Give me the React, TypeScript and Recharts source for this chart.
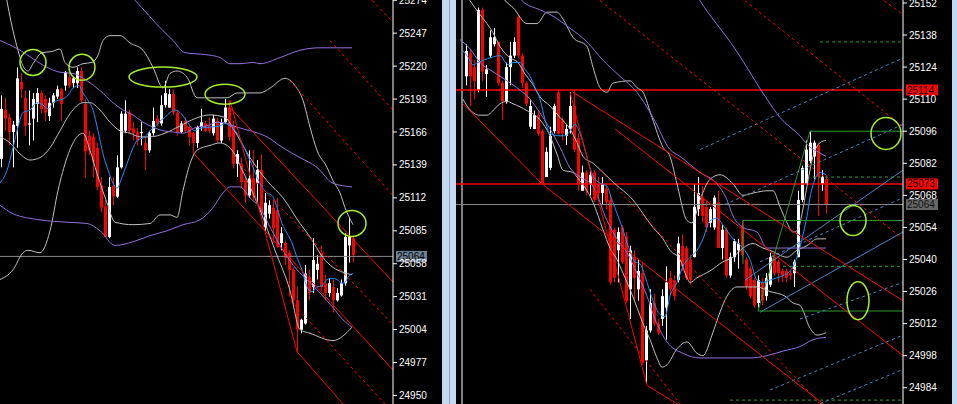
import React from 'react';
import { ComposedChart, Bar, Line, XAxis, YAxis, ReferenceLine, ReferenceDot } from 'recharts';

const FONT = "'Liberation Sans Narrow', 'Liberation Sans', Arial, sans-serif";

const RED = '#ff0000';
const WHITE = '#ffffff';
const BLUE = '#1e90ff';
const PURPLE = '#9370db';
const SILVER = '#c0c0c0';
const GREEN = '#2e9a2e';
const LIME = '#a6f02a';
const STEEL = '#4a86c8';

// ---------- left window ----------
const LEFT_OPEN = [
  25144, 25184, 25178, 25166, 25171, 25207, 25194, 25172, 25177, 25189,
  25198, 25193, 25179, 25190, 25195, 25201, 25204, 25211, 25206, 25206,
  25216, 25189, 25163, 25162, 25153, 25122, 25105, 25080, 25122, 25113,
  25137, 25167, 25182, 25169, 25166, 25165, 25157, 25151, 25165, 25177,
  25173, 25188, 25186, 25197, 25182, 25166, 25175, 25170, 25165, 25157,
  25170, 25173, 25171, 25165, 25175, 25159, 25174, 25186, 25171, 25140,
  25140, 25126, 25114, 25128, 25124, 25135, 25088, 25099, 25104, 25102,
  25075, 25075, 25067, 25053, 25028, 25004, 25009, 25047, 25039, 25053,
  25067, 25042, 25034, 25039, 25028, 25032, 25042, 25073, 25079,
];
const LEFT_HIGH = [
  25196, 25194, 25181, 25175, 25219, 25214, 25200, 25200, 25198, 25202,
  25200, 25196, 25194, 25198, 25204, 25202, 25216, 25214, 25211, 25219,
  25219, 25193, 25167, 25165, 25157, 25129, 25110, 25129, 25129, 25147,
  25183, 25192, 25184, 25174, 25169, 25174, 25162, 25167, 25186, 25180,
  25196, 25208, 25201, 25201, 25184, 25175, 25178, 25171, 25166, 25171,
  25185, 25175, 25178, 25180, 25178, 25177, 25193, 25192, 25175, 25151,
  25145, 25129, 25151, 25151, 25143, 25148, 25116, 25110, 25110, 25112,
  25088, 25077, 25069, 25055, 25039, 25013, 25057, 25053, 25079, 25065,
  25073, 25049, 25046, 25045, 25038, 25045, 25083, 25096, 25080,
];
const LEFT_LOW = [
  25137, 25167, 25155, 25137, 25153, 25194, 25163, 25155, 25159, 25174,
  25181, 25175, 25175, 25186, 25193, 25175, 25200, 25202, 25202, 25202,
  25190, 25128, 25147, 25129, 25118, 25100, 25080, 25079, 25106, 25112,
  25136, 25165, 25165, 25159, 25155, 25155, 25135, 25149, 25163, 25171,
  25171, 25186, 25186, 25180, 25163, 25165, 25166, 25155, 25149, 25153,
  25167, 25166, 25165, 25163, 25157, 25157, 25173, 25159, 25136, 25129,
  25120, 25108, 25112, 25110, 25108, 25098, 25085, 25095, 25075, 25071,
  25069, 25057, 25031, 25022, 24985, 25001, 25008, 25028, 25034, 25045,
  25036, 25028, 25031, 25018, 25027, 25031, 25040, 25059, 25059,
];
const LEFT_CLOSE = [
  25185, 25177, 25166, 25172, 25210, 25201, 25171, 25173, 25193, 25198,
  25185, 25182, 25190, 25196, 25201, 25189, 25215, 25204, 25210, 25216,
  25192, 25150, 25151, 25141, 25121, 25104, 25080, 25121, 25113, 25137,
  25181, 25181, 25167, 25165, 25159, 25166, 25151, 25165, 25175, 25173,
  25188, 25198, 25197, 25182, 25166, 25173, 25167, 25162, 25157, 25170,
  25174, 25167, 25167, 25177, 25159, 25174, 25186, 25162, 25140, 25148,
  25125, 25114, 25128, 25114, 25135, 25099, 25108, 25106, 25087, 25072,
  25083, 25063, 25053, 25028, 25004, 25012, 25050, 25034, 25061, 25058,
  25039, 25034, 25042, 25028, 25034, 25042, 25080, 25080, 25065,
];
const LEFT_TICKS = [24950, 24977, 25004, 25031, 25058, 25085, 25112, 25139, 25166, 25193, 25220, 25247, 25274];
const LEFT_BID = 25064;

// indicator lines, [bar index, price]
const LEFT_MA = [
  [-0.25, 25124], [1.5, 25134.5], [3, 25153], [4.25, 25170], [5.5, 25182], [7.25, 25184], [9, 25190],
  [10.5, 25188], [11.75, 25185], [13, 25190], [14.25, 25192], [15.5, 25193], [16.75, 25196], [18, 25202],
  [19.5, 25204], [20.5, 25198], [21.75, 25192], [23, 25184], [24.25, 25167], [25.5, 25148], [26.75, 25135],
  [28, 25124], [29, 25120], [30.25, 25129], [31.5, 25140], [32.75, 25151], [34, 25159], [36, 25162],
  [37.25, 25167], [38.5, 25170], [39.75, 25175], [41, 25178], [42.25, 25182], [43.5, 25184], [44.75, 25182],
  [46, 25177], [47.25, 25171], [48.5, 25167], [49.75, 25169], [52.25, 25170], [54.75, 25171], [56, 25173],
  [57.25, 25171], [59, 25165], [60.25, 25157], [61.5, 25148], [62.75, 25139], [64, 25129], [65.25, 25121],
  [66.5, 25116], [67.75, 25114], [69, 25104], [70.25, 25091], [71.5, 25083], [72.75, 25075], [74, 25063],
  [75.25, 25053], [76.5, 25039], [77.75, 25035], [79, 25039], [80.25, 25040], [81.5, 25045], [82.75, 25046],
  [84, 25045], [85.25, 25042], [86, 25043], [86.75, 25047], [88, 25050],
];
const LEFT_PURPLE_UP = [
  [31.75, 25280], [33.5, 25274], [40.5, 25249], [43, 25241], [46, 25231], [49, 25230], [52.25, 25229],
  [54.75, 25227], [57.25, 25222], [59.75, 25222], [63, 25223], [64.75, 25222], [69.75, 25227], [74.75, 25233],
  [79.75, 25235], [84.75, 25235], [87.75, 25235],
];
const LEFT_PURPLE_MID = [
  [-0.25, 25241], [4.75, 25233], [8, 25226], [11.5, 25219], [14.75, 25215], [18, 25214], [21.5, 25208],
  [24.75, 25200], [28, 25190], [30.5, 25184], [33, 25180], [35.5, 25174], [38, 25170], [40.5, 25167],
  [43, 25166], [45.5, 25165], [49, 25170], [51.5, 25171], [54, 25174], [56.5, 25173], [59, 25170],
  [62.25, 25167], [66.5, 25162], [70.5, 25153], [74.75, 25145], [79, 25137], [83, 25124], [87.75, 25121],
];
const LEFT_PURPLE_LOW = [
  [-0.25, 25106], [3, 25099], [9.75, 25094], [16.5, 25092], [21.5, 25091], [24.75, 25085], [28.5, 25073],
  [33, 25076], [37.25, 25081], [41.5, 25085], [45.5, 25090], [49.75, 25094], [53, 25104], [55.5, 25116],
  [57.25, 25121], [59.75, 25121], [62.25, 25112], [64.75, 25104], [67.25, 25088], [70.5, 25069], [74, 25053],
  [76.5, 25045], [79.75, 25034], [83, 25022], [85.5, 25012], [87.75, 25006],
];
const LEFT_BB_UP = [
  [1, 25282], [3, 25249], [4.25, 25233], [5.25, 25222], [6.75, 25216], [8, 25222], [10.25, 25231],
  [12.75, 25232], [14.75, 25234], [16, 25223], [18, 25219], [20.5, 25222], [22.75, 25223], [24.25, 25229],
  [25.5, 25241], [27.25, 25245], [29.75, 25245], [32.25, 25239], [35.5, 25233], [38, 25219], [40.5, 25202],
  [42.25, 25214], [44, 25216], [46.5, 25211], [49, 25194], [52.25, 25194], [56.5, 25194], [59, 25198],
  [62.25, 25198], [64.75, 25198], [67.25, 25202], [71, 25210], [73.5, 25204], [75.5, 25192], [77.25, 25170],
  [79, 25151], [81.5, 25137], [83, 25126], [84.75, 25116], [86, 25104], [88, 25090],
];
const LEFT_BB_MID = [
  [-0.25, 25162], [2.25, 25157], [4.75, 25148], [7.25, 25143], [9.75, 25145], [12.25, 25153], [14.75, 25167],
  [17.25, 25181], [20.5, 25190], [22.25, 25190], [24.75, 25184], [27.25, 25174], [29.75, 25167],
  [32.25, 25165], [34.75, 25162], [37.25, 25162], [41, 25165], [44.75, 25171], [48.5, 25177], [52.25, 25180],
  [56, 25178], [58, 25169], [62.25, 25145], [66.5, 25126], [70.5, 25112], [74.75, 25091], [77.25, 25080],
  [80.5, 25063], [83, 25055], [85.5, 25051], [87.75, 25049],
];
const LEFT_BB_LOW = [
  [-0.25, 25045], [3, 25053], [5.5, 25067], [6.75, 25069], [9.75, 25067], [12.25, 25085], [14.25, 25118],
  [16.5, 25145], [19.25, 25163], [20.5, 25165], [22.25, 25151], [24, 25132], [26.5, 25108], [28.5, 25092],
  [33, 25090], [37.25, 25091], [39.75, 25098], [42.25, 25098], [44, 25096], [45.5, 25118], [47.25, 25140],
  [49, 25151], [52.25, 25155], [54.75, 25157], [57.25, 25153], [61, 25130], [64.75, 25102], [68.5, 25069],
  [72.25, 25036], [74.75, 25004], [77.25, 25001], [83, 24995], [87.75, 25006],
];
const LEFT_TREND_SOLID = [
  [[57.25, 25192], [74, 24986]],
  [[74, 24986], [85.5, 24943]],
  [[57.25, 25186], [98, 25043]],
  [[48, 25149], [98, 24971]],
];
const LEFT_TREND_DASHED = [
  [[92.75, 25274], [98, 25256]],
  [[82.25, 25241], [98, 25184]],
  [[72.25, 25208], [98, 25114]],
  [[59.75, 25139], [98, 25008]],
  [[72.25, 25028], [96, 24943]],
];
const LEFT_MARKS = [[8, 25223], [20.25, 25219], [40.5, 25211], [56, 25197], [87.75, 25091]];
const LEFT_MARK_RADII = [[13, 13], [13, 13], [34, 10], [20, 10], [14, 13]];

// ---------- right window ----------
const RIGHT_OPEN = [
  25120, 25130, 25124, 25114, 25149, 25121, 25129, 25134, 25135, 25117,
  25109, 25124, 25129, 25146, 25129, 25117, 25098, 25097, 25103, 25096,
  25076, 25080, 25096, 25113, 25101, 25094, 25097, 25107, 25093, 25070,
  25078, 25073, 25078, 25073, 25069, 25071, 25066, 25053, 25044, 25054,
  25050, 25027, 25041, 25027, 25034, 24996, 25009, 25021, 25012, 25014,
  25019, 25032, 25031, 25031, 25046, 25045, 25040, 25041, 25062, 25067,
  25063, 25056, 25054, 25065, 25045, 25053, 25033, 25041, 25044, 25055,
  25040, 25036, 25031, 25021, 25030, 25024, 25029, 25041, 25039, 25035,
  25035, 25034, 25034, 25041, 25066, 25073, 25083, 25085, 25090, 25073,
  25075,
];
const RIGHT_HIGH = [
  25134, 25132, 25127, 25150, 25150, 25125, 25140, 25141, 25135, 25118,
  25126, 25135, 25137, 25147, 25130, 25118, 25110, 25105, 25105, 25097,
  25089, 25098, 25108, 25114, 25102, 25099, 25113, 25114, 25095, 25081,
  25079, 25079, 25079, 25076, 25076, 25073, 25068, 25054, 25054, 25055,
  25052, 25046, 25044, 25040, 25039, 25011, 25027, 25025, 25014, 25027,
  25037, 25035, 25033, 25050, 25051, 25046, 25042, 25073, 25076, 25072,
  25066, 25063, 25068, 25070, 25055, 25054, 25043, 25049, 25049, 25057,
  25041, 25037, 25032, 25033, 25032, 25034, 25043, 25043, 25040, 25036,
  25036, 25035, 25040, 25070, 25081, 25092, 25096, 25092, 25091, 25079,
  25077,
];
const RIGHT_LOW = [
  25116, 25107, 25110, 25113, 25118, 25111, 25128, 25133, 25116, 25101,
  25108, 25116, 25128, 25128, 25115, 25107, 25097, 25097, 25094, 25073,
  25076, 25079, 25095, 25094, 25092, 25090, 25095, 25087, 25070, 25070,
  25068, 25068, 25065, 25066, 25064, 25062, 25029, 25030, 25030, 25038,
  25021, 25014, 25022, 25022, 24994, 24986, 25008, 25011, 25007, 25011,
  25005, 25025, 25022, 25030, 25035, 25031, 25029, 25041, 25059, 25056,
  25052, 25054, 25053, 25045, 25040, 25032, 25032, 25039, 25036, 25041,
  25027, 25023, 25019, 25019, 25020, 25022, 25028, 25033, 25030, 25030,
  25030, 25031, 25028, 25041, 25065, 25073, 25082, 25075, 25059, 25070,
  25060,
];
const RIGHT_CLOSE = [
  25131, 25120, 25118, 25149, 25122, 25123, 25137, 25137, 25117, 25109,
  25124, 25129, 25135, 25129, 25117, 25108, 25107, 25103, 25095, 25073,
  25087, 25094, 25107, 25095, 25095, 25097, 25107, 25088, 25073, 25078,
  25070, 25077, 25066, 25069, 25073, 25065, 25030, 25032, 25052, 25039,
  25022, 25044, 25032, 25035, 24995, 25009, 25021, 25012, 25008, 25024,
  25030, 25027, 25024, 25047, 25037, 25032, 25031, 25063, 25069, 25059,
  25054, 25062, 25067, 25045, 25053, 25033, 25041, 25048, 25047, 25042,
  25028, 25024, 25020, 25031, 25022, 25032, 25041, 25034, 25034, 25033,
  25032, 25033, 25039, 25066, 25080, 25088, 25091, 25091, 25076, 25076,
  25064,
];
const RIGHT_TICKS = [24984, 24998, 25012, 25026, 25040, 25054, 25068, 25082, 25096, 25110, 25124, 25138, 25152];
const RIGHT_BID = 25064;
const RIGHT_LEVELS = [25114, 25073];

const RIGHT_MA = [
  [-0.75, 25131], [0.25, 25129], [1.75, 25125], [3, 25126], [6, 25128], [8.5, 25129], [10.5, 25125],
  [11.75, 25126], [13.5, 25126], [14.75, 25123], [16, 25120], [17.25, 25115], [18.5, 25110], [19.75, 25101],
  [21, 25095], [23.5, 25094], [24.75, 25094], [26, 25096], [27.25, 25099], [28.5, 25095], [29.75, 25088],
  [31, 25080], [32.25, 25075], [34, 25073], [35.25, 25072], [36.5, 25066], [38, 25059], [39.25, 25053],
  [40.5, 25046], [42.25, 25039], [43.5, 25038], [45.25, 25030], [46.75, 25022], [48.5, 25016], [49.75, 25015],
  [51, 25024], [52.75, 25030], [54.25, 25037], [56, 25041], [57.75, 25044], [59.25, 25049], [61, 25057],
  [62.75, 25058], [64.25, 25055], [66.75, 25049], [69.25, 25045], [71, 25040], [72.75, 25031], [74.25, 25030],
  [76, 25031], [77.75, 25032], [79.25, 25033], [81, 25035], [82.75, 25041], [84, 25049], [85.25, 25059],
  [86, 25067], [87.25, 25075], [88.5, 25078], [90, 25077],
];
const RIGHT_PURPLE_UP = [
  [56, 25160], [58.5, 25153], [67.25, 25132], [75.25, 25110], [78.5, 25102], [83.5, 25094], [86, 25089],
  [88, 25087], [90, 25085],
];
const RIGHT_PURPLE_MID = [
  [12.25, 25157], [14, 25153], [18.5, 25149], [21, 25147], [26, 25141], [30.25, 25135], [34.25, 25127],
  [38.5, 25120], [42.75, 25113], [46.75, 25102], [51, 25088], [53.5, 25085], [58.5, 25078], [62.75, 25073],
  [65.25, 25066], [66.75, 25059], [69.25, 25054], [72.75, 25052], [75.25, 25045], [83.5, 25045], [90, 25045],
];
const RIGHT_PURPLE_LOW = [
  [-1.5, 25136], [1, 25132], [3.5, 25126], [6.75, 25122], [10.25, 25118], [13.5, 25114], [16, 25110],
  [18.5, 25104], [21, 25097], [23.5, 25089], [26, 25080], [28.5, 25076], [31.75, 25072], [35.25, 25057],
  [37.75, 25049], [40.25, 25043], [42.75, 25034], [45.25, 25024], [47.25, 25014], [50.25, 25004],
  [54.25, 24999], [58.5, 24997], [65.25, 24997], [71, 24997], [75.25, 24998], [79.25, 25000], [83.5, 25002],
  [86.75, 25005], [90, 25006],
];
const RIGHT_BB_UP = [
  [7.25, 25158], [9.75, 25153], [11.75, 25150], [15.25, 25143], [17.75, 25143], [20.25, 25148],
  [22.75, 25148], [24.25, 25145], [26.75, 25137], [30.25, 25133], [31.75, 25124], [33.5, 25115],
  [35.25, 25113], [36.75, 25117], [41, 25118], [42.75, 25115], [44.25, 25113], [46.5, 25102], [49.25, 25089],
  [51, 25085], [52.75, 25073], [55.25, 25057], [56.5, 25056], [58.5, 25066], [61, 25075], [63.5, 25077],
  [66.75, 25073], [69.25, 25068], [71.75, 25069], [75.25, 25070], [76.75, 25070], [78.5, 25063],
  [80.25, 25056], [81.75, 25052], [83, 25053], [84, 25060], [85.25, 25072], [86.75, 25085], [88.5, 25091],
  [90, 25092],
];
const RIGHT_BB_MID = [
  [-0.25, 25156], [1, 25153], [3, 25148], [5.25, 25143], [6.75, 25139], [8.5, 25133], [11, 25128],
  [13, 25126], [14.75, 25121], [16.5, 25117], [18.5, 25111], [21, 25107], [23.5, 25102], [26, 25097],
  [27.75, 25091], [29.25, 25085], [31.75, 25082], [34.25, 25078], [37.25, 25073], [41.75, 25066],
  [44.25, 25060], [46.75, 25054], [49.25, 25049], [51, 25044], [53.5, 25040], [55.25, 25032], [56, 25030],
  [57.75, 25032], [61, 25035], [64.25, 25039], [66.75, 25041], [69.25, 25045], [71.75, 25047], [74.25, 25045],
  [76, 25044], [80.25, 25041], [82.75, 25044], [85.25, 25046], [87.75, 25049], [90, 25049],
];
const RIGHT_BB_LOW = [
  [-0.75, 25110], [0.25, 25107], [3.5, 25103], [5.25, 25103], [6.75, 25105], [8.5, 25108], [10.25, 25109],
  [11.75, 25108], [15.25, 25105], [18.5, 25101], [21, 25094], [22.75, 25086], [24.25, 25079], [26.75, 25078],
  [27.75, 25076], [30.25, 25070], [31.75, 25065], [34.25, 25053], [36, 25045], [37.75, 25040], [39.25, 25034],
  [41, 25027], [42.75, 25019], [44.25, 25012], [46, 25005], [47.75, 24997], [49, 24993], [50.25, 24994],
  [52.75, 25001], [55.25, 25004], [57.75, 24999], [59.25, 24998], [61.5, 25007], [63.5, 25017],
  [65.25, 25024], [67.75, 25028], [70.25, 25028], [72.75, 25028], [76, 25026], [79.75, 25024],
  [81.75, 25021], [83.5, 25020], [86, 25010], [87.75, 25007], [90, 25008],
];
const RIGHT_TREND_SOLID = [
  [[26, 25113], [45.25, 24985]],
  [[45.25, 24985], [52.75, 24977]],
  [[26.75, 25113], [109.25, 25022]],
  [[37.25, 25097], [109.25, 24998]],
  [[19, 25073], [89.25, 24977]],
  [[-0.75, 25108], [19, 25073]],
];
const RIGHT_TREND_DASHED = [
  [[104.5, 25153], [109.25, 25147]],
  [[69.75, 25153], [109.25, 25098]],
  [[33.5, 25153], [109.25, 25049]],
  [[33.5, 25079], [88.5, 24977]],
  [[31, 25027], [53.5, 24977]],
];
const RIGHT_CHANNEL_SOLID = [
  [[69.75, 25031], [109.25, 25079]],
  [[73.5, 25017], [109.25, 25052]],
];
const RIGHT_CHANNEL_DASHED = [
  [[58.5, 25088], [109.25, 25128]],
  [[64.75, 25064], [109.25, 25099]],
  [[73.5, 25039], [109.25, 25067]],
  [[83.5, 25014], [109.25, 25030]],
  [[76, 24983], [109.25, 25007]],
  [[88.5, 24977], [109.25, 24992]],
];
const RIGHT_BOX_SOLID = [
  [[86, 25096], [109.25, 25096]],
  [[73, 25017.5], [86, 25096]],
  [[69.25, 25057], [109.25, 25057]],
  [[69.25, 25057], [69.25, 25038]],
  [[73, 25017.5], [109.25, 25017.5]],
];
const RIGHT_BOX_DASHED = [
  [[86.75, 25076], [109.25, 25076]],
  [[79.25, 25037], [109.25, 25037]],
  [[88.5, 25135], [109.25, 25135]],
  [[66, 24978.6], [109.25, 24978.6]],
];
const RIGHT_MARKS = [[105, 25095], [96.75, 25057], [98, 25022]];
const RIGHT_MARK_RADII = [[15, 16], [13, 15], [11, 19]];

function toRows(o: number[], h: number[], l: number[], c: number[]) {
  return o.map((open, i) => ({ i, o: open, hi: h[i], lo: l[i], c: c[i], range: [l[i], h[i]] }));
}

function toPts(arr: number[][]) {
  return arr.map(([i, v]) => ({ i, v }));
}

function Candle(props: any) {
  const { x, y, width, height, payload } = props;
  if (x == null || !payload) return null;
  const top = Math.min(y, y + height);
  const h = Math.abs(height);
  const { o, hi, lo, c } = payload;
  const k = hi > lo ? h / (hi - lo) : 0;
  const yo = top + (hi - o) * k;
  const yc = top + (hi - c) * k;
  const color = c >= o ? WHITE : RED;
  const cx = Math.round(x + width / 2) + 0.5;
  return (
    <g>
      <line x1={cx} x2={cx} y1={top} y2={top + h} stroke={color} strokeWidth={1} />
      <rect x={cx - 1.5} y={Math.min(yo, yc)} width={3} height={Math.max(1, Math.abs(yc - yo))} fill={color} />
    </g>
  );
}

// price tag drawn just right of the plot, on the axis
function tag(text: string, bg: string, fg: string, w: number) {
  return (p: any) => {
    const vb = p.viewBox || {};
    const x = (vb.x || 0) + (vb.width || 0) + 3;
    const y = vb.y || 0;
    return (
      <g>
        <rect x={x} y={y - 5.5} width={w} height={11} fill={bg} />
        <text x={x + 1} y={y + 3.5} fill={fg} fontSize={10} fontFamily={FONT}>{text}</text>
      </g>
    );
  };
}

function Ellipse(rx: number, ry: number) {
  return (p: any) => (
    <ellipse cx={p.cx} cy={p.cy} rx={rx} ry={ry} fill="none" stroke={LIME} strokeWidth={1.5} />
  );
}

function Window({ width, xDomain, yDomain, ticks, rows, lines, solid, dashed, marks, radii, children }: any) {
  return (
    <ComposedChart width={width} height={404} data={rows} margin={{ top: 0, right: 0, bottom: 0, left: 0 }}>
      <XAxis type="number" dataKey="i" domain={xDomain} hide allowDataOverflow />
      <YAxis
        orientation="right"
        domain={yDomain}
        ticks={ticks}
        interval={0}
        width={49}
        allowDataOverflow
        axisLine={{ stroke: WHITE }}
        tickLine={{ stroke: WHITE }}
        tickSize={4}
        tickMargin={2}
        tick={{ fill: WHITE, fontSize: 10, fontFamily: FONT }}
      />
      {children}
      {lines.map((ln: any, n: number) => (
        <Line
          key={'l' + n}
          data={toPts(ln.data)}
          dataKey="v"
          type="monotone"
          stroke={ln.color}
          strokeWidth={1}
          dot={false}
          activeDot={false}
          isAnimationActive={false}
        />
      ))}
      <Bar dataKey="range" barSize={3} shape={(p: any) => <Candle {...p} />} isAnimationActive={false} />
      {solid.map((s: any, n: number) => (
        <ReferenceLine
          key={'s' + n}
          segment={[{ x: s.seg[0][0], y: s.seg[0][1] }, { x: s.seg[1][0], y: s.seg[1][1] }]}
          stroke={s.color}
          strokeWidth={1}
          ifOverflow="hidden"
        />
      ))}
      {dashed.map((s: any, n: number) => (
        <ReferenceLine
          key={'d' + n}
          segment={[{ x: s.seg[0][0], y: s.seg[0][1] }, { x: s.seg[1][0], y: s.seg[1][1] }]}
          stroke={s.color}
          strokeWidth={1}
          strokeDasharray="3 3"
          ifOverflow="hidden"
        />
      ))}
      {marks.map((m: number[], n: number) => (
        <ReferenceDot
          key={'m' + n}
          x={m[0]}
          y={m[1]}
          r={radii[n][0]}
          ifOverflow="visible"
          shape={Ellipse(radii[n][0], radii[n][1])}
        />
      ))}
    </ComposedChart>
  );
}

export default function App() {
  const leftRows = toRows(LEFT_OPEN, LEFT_HIGH, LEFT_LOW, LEFT_CLOSE);
  const rightRows = toRows(RIGHT_OPEN, RIGHT_HIGH, RIGHT_LOW, RIGHT_CLOSE);

  const leftLines = [
    { data: LEFT_BB_UP, color: SILVER },
    { data: LEFT_BB_MID, color: SILVER },
    { data: LEFT_BB_LOW, color: SILVER },
    { data: LEFT_PURPLE_UP, color: PURPLE },
    { data: LEFT_PURPLE_MID, color: PURPLE },
    { data: LEFT_PURPLE_LOW, color: PURPLE },
    { data: LEFT_MA, color: BLUE },
  ];
  const rightLines = [
    { data: RIGHT_BB_UP, color: SILVER },
    { data: RIGHT_BB_MID, color: SILVER },
    { data: RIGHT_BB_LOW, color: SILVER },
    { data: RIGHT_PURPLE_UP, color: PURPLE },
    { data: RIGHT_PURPLE_MID, color: PURPLE },
    { data: RIGHT_PURPLE_LOW, color: PURPLE },
    { data: RIGHT_MA, color: BLUE },
  ];

  const leftSolid = LEFT_TREND_SOLID.map((seg) => ({ seg, color: RED }));
  const leftDashed = LEFT_TREND_DASHED.map((seg) => ({ seg, color: RED }));
  const rightSolid = [
    ...RIGHT_CHANNEL_SOLID.map((seg) => ({ seg, color: STEEL })),
    ...RIGHT_BOX_SOLID.map((seg) => ({ seg, color: GREEN })),
    ...RIGHT_TREND_SOLID.map((seg) => ({ seg, color: RED })),
  ];
  const rightDashed = [
    ...RIGHT_CHANNEL_DASHED.map((seg) => ({ seg, color: STEEL })),
    ...RIGHT_BOX_DASHED.map((seg) => ({ seg, color: GREEN })),
    ...RIGHT_TREND_DASHED.map((seg) => ({ seg, color: RED })),
  ];

  return (
    <div style={{ position: 'absolute', left: 0, top: 0, width: 957, height: 404, background: '#c4d9ef', overflow: 'hidden' }}>
      <div style={{ position: 'absolute', left: 0, top: 0, width: 442, height: 404, background: '#000' }}>
        <Window
          width={442}
          xDomain={[-0.25, 98]}
          yDomain={[24943, 25274.2]}
          ticks={LEFT_TICKS}
          rows={leftRows}
          lines={leftLines}
          solid={leftSolid}
          dashed={leftDashed}
          marks={LEFT_MARKS}
          radii={LEFT_MARK_RADII}
        >
          <ReferenceLine y={LEFT_BID} stroke="#8a8a8a" label={tag(String(LEFT_BID), '#6d8195', '#000', 31)} />
        </Window>
      </div>
      <div style={{ position: 'absolute', left: 449, top: 0, width: 1, height: 404, background: '#8ea6bf' }} />
      <div style={{ position: 'absolute', left: 456, top: 0, width: 496, height: 404, background: '#000' }}>
        <Window
          width={496}
          xDomain={[-2.5, 109.25]}
          yDomain={[24976.9, 25153.3]}
          ticks={RIGHT_TICKS}
          rows={rightRows}
          lines={rightLines}
          solid={rightSolid}
          dashed={rightDashed}
          marks={RIGHT_MARKS}
          radii={RIGHT_MARK_RADII}
        >
          <ReferenceLine x={-1} stroke={WHITE} />
          <ReferenceLine y={RIGHT_BID} stroke="#8a8a8a" label={tag(String(RIGHT_BID), '#666666', '#111', 32)} />
          {RIGHT_LEVELS.map((v) => (
            <ReferenceLine key={v} y={v} stroke={RED} strokeWidth={1.5} label={tag(String(v), RED, '#000', 32)} />
          ))}
        </Window>
      </div>
    </div>
  );
}
